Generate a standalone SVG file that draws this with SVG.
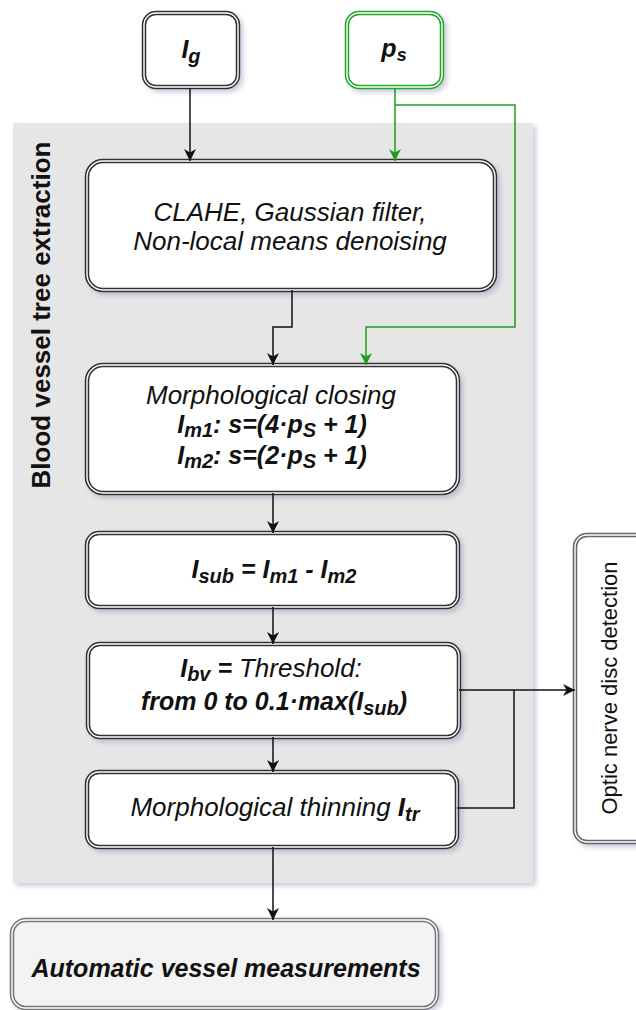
<svg xmlns="http://www.w3.org/2000/svg" width="636" height="1010" viewBox="0 0 636 1010">
<defs>
<filter id="sh" x="-10%" y="-10%" width="130%" height="130%">
<feGaussianBlur in="SourceAlpha" stdDeviation="2.5"/>
<feOffset dx="3" dy="3" result="b"/>
<feFlood flood-color="#8890b0" flood-opacity="0.45"/>
<feComposite in2="b" operator="in"/>
<feMerge><feMergeNode/><feMergeNode in="SourceGraphic"/></feMerge>
</filter>
<marker id="ab" viewBox="0 0 10 10" refX="10" refY="5" markerWidth="12" markerHeight="12" markerUnits="userSpaceOnUse" orient="auto">
<path d="M0,0 L10,5 L0,10 L3,5 Z" fill="#111"/>
</marker>
<marker id="ag" viewBox="0 0 10 10" refX="10" refY="5" markerWidth="12" markerHeight="12" markerUnits="userSpaceOnUse" orient="auto">
<path d="M0,0 L10,5 L0,10 L3,5 Z" fill="#1a9e1a"/>
</marker>
</defs>
<style>
text{font-family:"Liberation Sans",Arial,sans-serif;fill:#111}
.o{fill:#fff;stroke:#333;stroke-width:4.5}
.i{fill:none;stroke:#fff;stroke-width:1.4}
.it{font-style:italic;font-size:26px}
.bi{font-style:italic;font-weight:bold;font-size:25px}
.s{font-size:20px}
.c{stroke:#111;stroke-width:1.5;fill:none;marker-end:url(#ab)}
.cn{stroke:#111;stroke-width:1.5;fill:none}
.g{stroke:#1a9e1a;stroke-width:1.5;fill:none}
</style>
<g id="panel">
<rect x="13" y="123" width="520" height="760" fill="#e6e6e6" filter="url(#sh)"/>
<text transform="translate(50,315) rotate(-90)" text-anchor="middle" font-weight="bold" font-size="26">Blood vessel tree extraction</text>
</g>
<g id="n-ig">
<rect class="o" x="144" y="13" width="94" height="74" rx="12" filter="url(#sh)"/>
<rect class="i" x="144" y="13" width="94" height="74" rx="12"/>
<text x="191" y="58" text-anchor="middle" class="bi">I<tspan class="s" dy="5">g</tspan></text>
</g>
<g id="n-ps">
<rect class="o" x="347" y="13" width="95" height="74" rx="12" style="stroke:#22a822" filter="url(#sh)"/>
<rect class="i" x="347" y="13" width="95" height="74" rx="12"/>
<text x="394" y="57" text-anchor="middle" class="bi">p<tspan font-size="18" dy="4">s</tspan></text>
</g>
<g id="n-clahe">
<rect class="o" x="87" y="161" width="408" height="129" rx="16" filter="url(#sh)"/>
<rect class="i" x="87" y="161" width="408" height="129" rx="16"/>
<text x="290" y="221" text-anchor="middle" class="it">CLAHE, Gaussian filter,</text>
<text x="290" y="250" text-anchor="middle" class="it">Non-local means denoising</text>
</g>
<g id="n-morph">
<rect class="o" x="87" y="365" width="371" height="128" rx="16" filter="url(#sh)"/>
<rect class="i" x="87" y="365" width="371" height="128" rx="16"/>
<text x="271" y="404" text-anchor="middle" class="it">Morphological closing</text>
<text x="272" y="433" text-anchor="middle" class="bi">I<tspan class="s" dy="4">m1</tspan><tspan dy="-4">: s=(4·p</tspan><tspan class="s" dy="4">S</tspan><tspan dy="-4"> + 1)</tspan></text>
<text x="272" y="464" text-anchor="middle" class="bi">I<tspan class="s" dy="4">m2</tspan><tspan dy="-4">: s=(2·p</tspan><tspan class="s" dy="4">S</tspan><tspan dy="-4"> + 1)</tspan></text>
</g>
<g id="n-sub">
<rect class="o" x="87" y="533" width="371" height="74" rx="12" filter="url(#sh)"/>
<rect class="i" x="87" y="533" width="371" height="74" rx="12"/>
<text x="274" y="578" text-anchor="middle" class="bi">I<tspan class="s" dy="5">sub</tspan><tspan dy="-5"> = I</tspan><tspan class="s" dy="5">m1</tspan><tspan dy="-5"> - I</tspan><tspan class="s" dy="5">m2</tspan></text>
</g>
<g id="n-bv">
<rect class="o" x="88" y="644" width="371" height="93" rx="12" filter="url(#sh)"/>
<rect class="i" x="88" y="644" width="371" height="93" rx="12"/>
<text x="271" y="677" text-anchor="middle" class="bi">I<tspan class="s" dy="4">bv</tspan><tspan dy="-4"> = </tspan><tspan font-weight="normal" font-size="26">Threshold:</tspan></text>
<text x="274" y="710" text-anchor="middle" class="bi" font-size="26">from 0 to 0.1·max(I<tspan class="s" dy="5">sub</tspan><tspan dy="-5">)</tspan></text>
</g>
<g id="n-thin">
<rect class="o" x="87" y="772" width="370" height="75" rx="12" filter="url(#sh)"/>
<rect class="i" x="87" y="772" width="370" height="75" rx="12"/>
<text x="275" y="816" text-anchor="middle" class="it">Morphological thinning <tspan font-weight="bold">I</tspan><tspan font-weight="bold" class="s" dy="5">tr</tspan></text>
</g>
<g id="n-optic">
<rect class="o" x="575" y="535" width="80" height="307" rx="12" style="stroke:#666" filter="url(#sh)"/>
<rect class="i" x="575" y="535" width="80" height="307" rx="12"/>
<text transform="translate(617,688) rotate(-90)" text-anchor="middle" font-size="22">Optic nerve disc detection</text>
</g>
<g id="n-auto">
<rect class="o" x="12" y="920" width="425" height="88" rx="14" style="fill:#f3f3f3;stroke:#777" filter="url(#sh)"/>
<rect class="i" x="12" y="920" width="425" height="88" rx="14"/>
<text x="226" y="977" text-anchor="middle" class="bi" font-size="24.5">Automatic vessel measurements</text>
</g>
<g id="connectors">
<path class="c" d="M190,88 V161"/>
<path class="g" d="M395,88 V161" marker-end="url(#ag)"/>
<path class="g" d="M395,105 H515 V327 H366 V365" marker-end="url(#ag)"/>
<path class="c" d="M292,290 V327 H273 V365"/>
<path class="c" d="M273,493 V533"/>
<path class="c" d="M273,607 V644"/>
<path class="c" d="M273,737 V772"/>
<path class="c" d="M273,847 V920"/>
<path class="c" d="M459,690 H575"/>
<path class="cn" d="M457,808 H514 V690"/>
</g>
</svg>
